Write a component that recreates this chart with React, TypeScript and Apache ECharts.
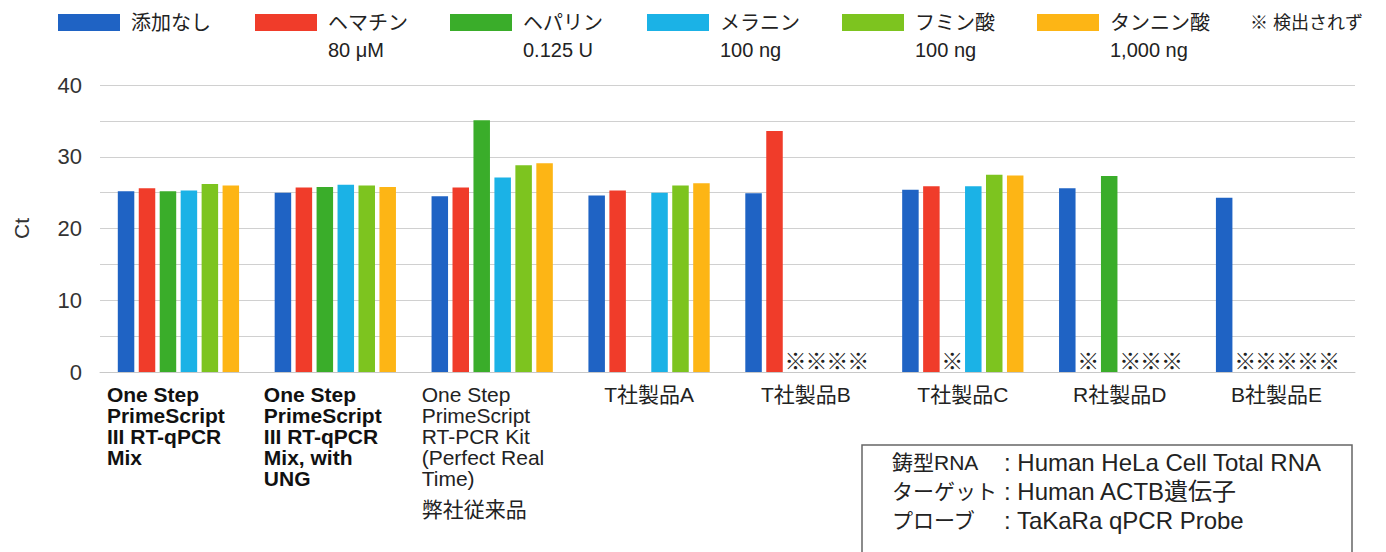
import React, { useEffect, useRef } from "react";
import * as echarts from "echarts";

const FONT = "'Liberation Sans', Arial, 'Noto Sans CJK JP', sans-serif";

const ND = "ND"; // 検出されず (not detected)

const categories = [
  "One Step\nPrimeScript\nIII RT-qPCR\nMix",
  "One Step\nPrimeScript\nIII RT-qPCR\nMix, with\nUNG",
  "One Step\nPrimeScript\nRT-PCR Kit\n(Perfect Real\nTime)\n弊社従来品",
  "T社製品A",
  "T社製品B",
  "T社製品C",
  "R社製品D",
  "B社製品E",
];

const seriesNames = [
  "添加なし",
  "ヘマチン\n80 μM",
  "ヘパリン\n0.125 U",
  "メラニン\n100 ng",
  "フミン酸\n100 ng",
  "タンニン酸\n1,000 ng",
];

const seriesColors = ["#1f63c4", "#f03c2a", "#3aad2a", "#1bb2e6", "#7dc41f", "#fdb515"];

const noneValues: (number | string | null)[] = [25.2, 25.0, 24.5, 24.6, 24.9, 25.4, 25.6, 24.3];
const heminValues: (number | string | null)[] = [25.6, 25.7, 25.7, 25.3, 33.6, 25.9, ND, ND];
const heparinValues: (number | string | null)[] = [25.2, 25.8, 35.1, null, ND, ND, 27.3, ND];
const melaninValues: (number | string | null)[] = [25.3, 26.1, 27.1, 25.0, ND, 25.9, ND, ND];
const humicValues: (number | string | null)[] = [26.2, 26.0, 28.8, 26.0, ND, 27.5, ND, ND];
const tannicValues: (number | string | null)[] = [26.0, 25.8, 29.1, 26.3, ND, 27.4, ND, ND];

const allValues = [noneValues, heminValues, heparinValues, melaninValues, humicValues, tannicValues];

const yTicks = [0, 10, 20, 30, 40];

const noteLines = [
  ["鋳型RNA", "Human HeLa Cell Total RNA"],
  ["ターゲット", "Human ACTB遺伝子"],
  ["プローブ", "TaKaRa qPCR Probe"],
];

const legendLeft = [58, 255, 450, 647, 842, 1037];

export default function App() {
  const ref = useRef<HTMLDivElement>(null);

  useEffect(() => {
    if (!ref.current) return;
    const chart = echarts.init(ref.current, undefined, { renderer: "svg" });

    const series = allValues.map((vals, i) => ({
      name: seriesNames[i],
      type: "bar",
      barWidth: 16.5,
      barGap: "27%",
      itemStyle: { color: seriesColors[i] },
      data: vals.map((v) =>
        v === ND
          ? {
              value: 0,
              label: {
                show: true,
                position: "top",
                distance: 0,
                formatter: "※",
                fontSize: 22,
                color: "#222",
                fontFamily: FONT,
              },
            }
          : v
      ),
    }));

    const legends = seriesNames.map((name, i) => {
      const twoLine = name.includes("\n");
      return {
        data: [{ name }],
        left: legendLeft[i],
        top: twoLine ? -18 : 9,
        padding: 0,
        itemWidth: 62,
        itemHeight: 17,
        icon: "rect",
        selectedMode: false,
        formatter: (n: string) => (n.includes("\n") ? "\n" + n : n),
        textStyle: {
          fontSize: 20,
          lineHeight: 27,
          color: "#222",
          fontFamily: FONT,
          padding: [0, 0, 0, 6],
        },
      };
    });

    const boldLine = { fontSize: 21, lineHeight: 21, fontWeight: "bold", color: "#111", fontFamily: FONT, align: "left", padding: [0, 0, 0, 7] };
    const regLine = { fontSize: 21, lineHeight: 21, color: "#222", fontFamily: FONT, align: "left", padding: [0, 0, 0, 8] };
    const jpLine = { fontSize: 21, lineHeight: 41, color: "#222", fontFamily: FONT, align: "left", padding: [0, 0, 0, 8] };
    const cLine = { fontSize: 21, lineHeight: 21, color: "#222", fontFamily: FONT, align: "center" };

    const formatLabel = (value: string, idx: number) => {
      const lines = value.split("\n");
      if (idx < 2) return lines.map((l) => `{b|${l}}`).join("\n");
      if (idx === 2)
        return lines
          .map((l) => (/[\u3040-\u9fff]/.test(l) ? `{j|${l}}` : `{r|${l}}`))
          .join("\n");
      return `{c|${value}}`;
    };

    const option = {
      animation: false,
      backgroundColor: "#ffffff",
      textStyle: { fontFamily: FONT },
      legend: legends,
      grid: { left: 100, right: 31, top: 85, bottom: 180, containLabel: false },
      xAxis: {
        type: "category",
        data: categories,
        axisLine: { show: true, lineStyle: { color: "#c8c8c8", width: 1 } },
        axisTick: { show: false },
        axisLabel: {
          interval: 0,
          margin: 12,
          width: 157,
          overflow: "none",
          align: "center",
          verticalAlign: "top",
          formatter: formatLabel,
          rich: { b: boldLine, r: regLine, j: jpLine, c: cLine },
        },
      },
      yAxis: {
        type: "value",
        min: 0,
        max: 40,
        interval: 5,
        name: "Ct",
        nameLocation: "middle",
        nameGap: 68,
        nameRotate: 90,
        nameTextStyle: { fontSize: 21, color: "#333", fontFamily: FONT },
        axisLine: { show: false },
        axisTick: { show: false },
        axisLabel: {
          margin: 18,
          fontSize: 22,
          color: "#333",
          fontFamily: FONT,
          formatter: (v: number) => (yTicks.includes(v) ? String(v) : ""),
        },
        splitLine: { show: true, lineStyle: { color: "#d0d0d0", width: 1 } },
      },
      series,
      graphic: [
        {
          type: "text",
          left: 1250,
          top: 14,
          style: { text: "※ 検出されず", fontSize: 18, fill: "#222", fontFamily: FONT },
        },
        {
          type: "rect",
          shape: { x: 862, y: 445, width: 490, height: 140 },
          style: { fill: "#fff", stroke: "#666", lineWidth: 1.5 },
          z: 10,
        },
        ...noteLines.map((ln, i) => ({
          type: "text",
          x: 892,
          y: 462 + i * 29,
          z: 11,
          style: {
            text: `{k|${ln[0]}}{v|: ${ln[1]}}`,
            verticalAlign: "middle",
            rich: {
              k: { width: 112, fontSize: 21, fill: "#222", fontFamily: FONT },
              v: { fontSize: 24, fill: "#222", fontFamily: FONT },
            },
          },
        })),
      ],
    };

    chart.setOption(option as any);
    return () => chart.dispose();
  }, []);

  return (
    <div
      ref={ref}
      style={{ position: "fixed", left: 0, top: 0, width: 1386, height: 552, background: "#fff" }}
    />
  );
}
